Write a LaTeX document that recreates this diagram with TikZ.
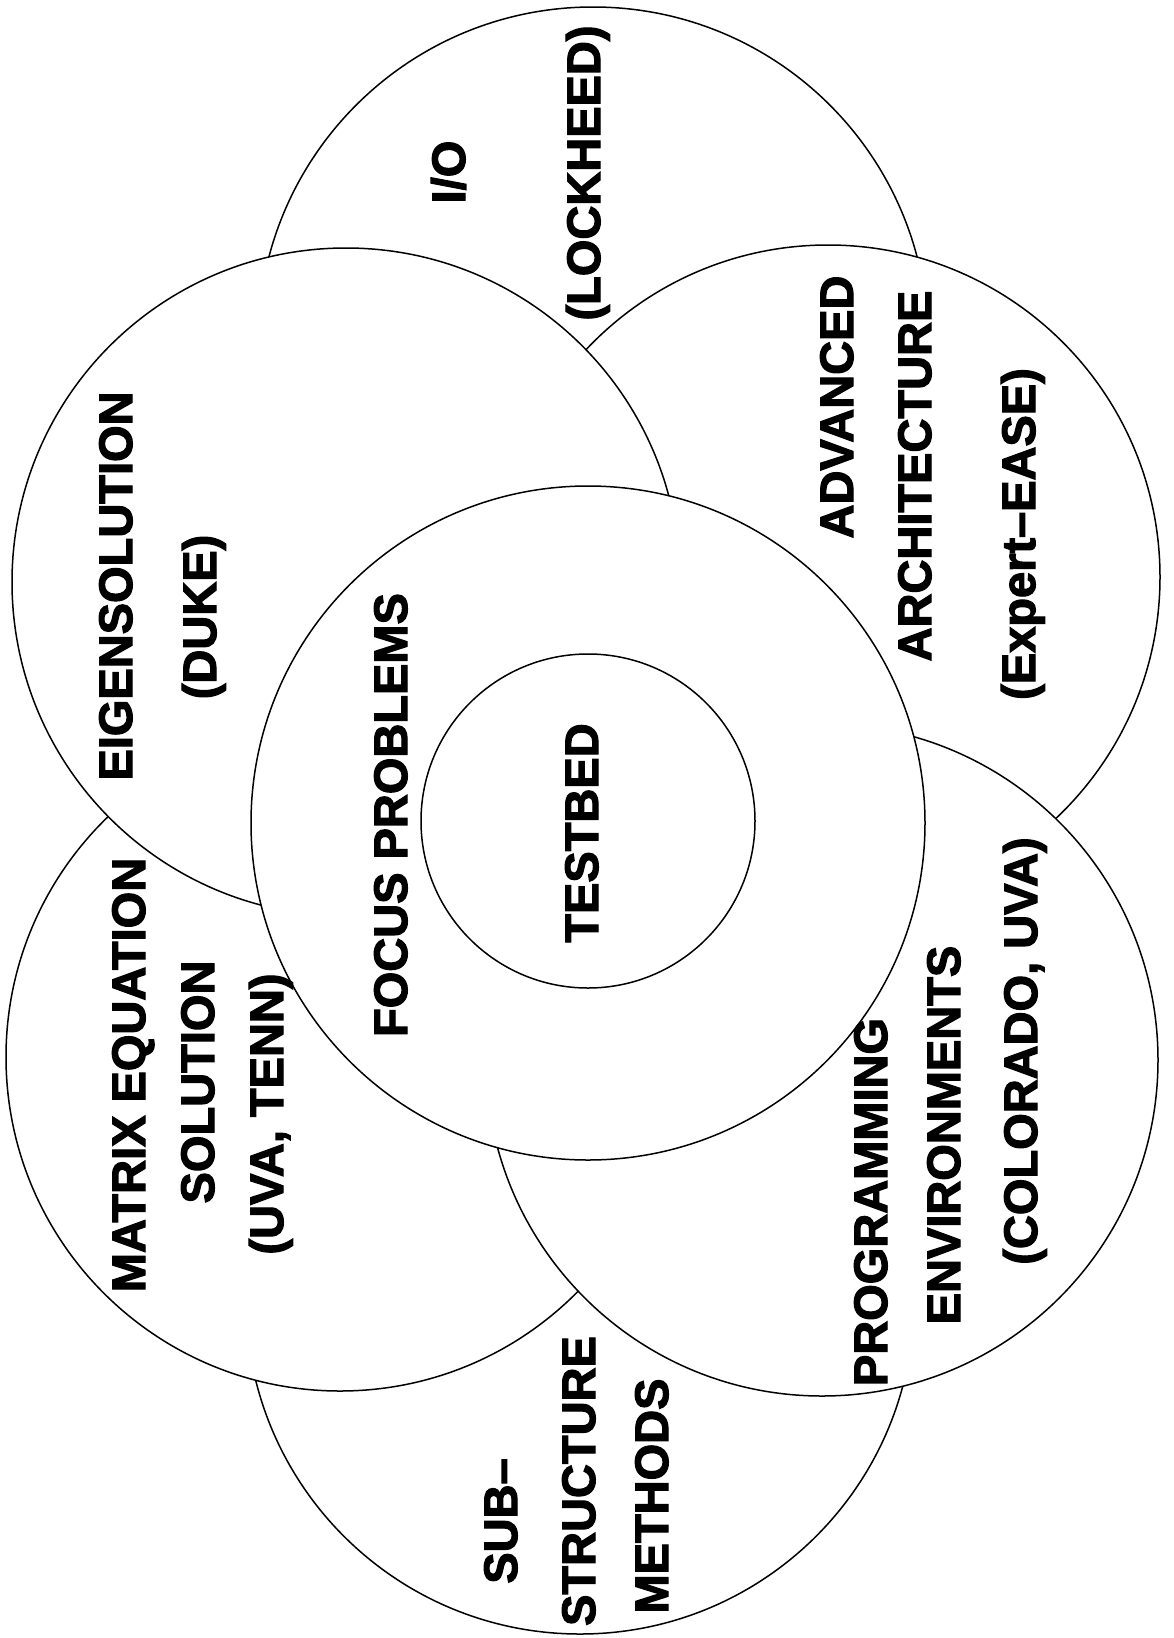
\documentclass[tikz,border=0pt]{standalone}
\usepackage{fontspec}
\setmainfont[BoldFeatures={FakeBold=2.5}]{Liberation Sans}
\begin{document}
\begin{tikzpicture}[x=1pt,y=-1pt,
  disc/.style={circle, draw=black, fill=white, line width=1.5pt, inner sep=0pt},
  lbl/.style={rotate=90, font=\bfseries\fontsize{47}{56}\selectfont, inner sep=0pt, text height=34pt, text depth=0pt}]
\fill[white] (0,0) rectangle (1174,1638);
\useasboundingbox (0,0) rectangle (1174,1638);
% circles, bottom layer first
\node[disc, minimum size=670pt] (io)   at (593,342)  {};
\node[disc, minimum size=668pt] (sub)  at (580,1300) {};
\node[disc, minimum size=664pt] (adv)  at (828,577)  {};
\node[disc, minimum size=668pt] (mat)  at (340,1057) {};
\node[disc, minimum size=668pt] (eig)  at (346,582)  {};
\node[disc, minimum size=672pt] (prog) at (822,1060) {};
\node[disc, minimum size=674pt] (foc)  at (588,823)  {};
\node[disc, minimum size=334pt] (tb)   at (588,821)  {};
% labels
\node[lbl] (tio)   at (448,172)  {I/O};
\node[lbl] (tlock) at (583,173)  {(LOCKHEED)};
\node[lbl] (teig)  at (115,586)  {EIGENSOLUTION};
\node[lbl] (tduke) at (199,617)  {(DUKE)};
\node[lbl] (tadv1) at (836,407)  {ADVANCED};
\node[lbl] (tadv2) at (914,476)  {ARCHITECTURE};
\node[lbl] (tadv3) at (1018,534) {(Expert–EASE)};
\node[lbl] (tfoc)  at (390,815)  {FOCUS PROBLEMS};
\node[lbl] (ttb)   at (581,833)  {TESTBED};
\node[lbl] (tmat1) at (128,1075) {MATRIX EQUATION};
\node[lbl] (tmat2) at (197,1082) {SOLUTION};
\node[lbl] (tmat3) at (266,1114) {(UVA, TENN)};
\node[lbl] (tpro1) at (870,1202) {PROGRAMMING};
\node[lbl] (tpro2) at (943,1135) {ENVIRONMENTS};
\node[lbl] (tpro3) at (1020,1051) {(COLORADO, UVA)};
\node[lbl] (tsub1) at (500,1521) {SUB–};
\node[lbl] (tsub2) at (578,1481) {STRUCTURE};
\node[lbl] (tsub3) at (651,1496) {METHODS};
\end{tikzpicture}
\end{document}
